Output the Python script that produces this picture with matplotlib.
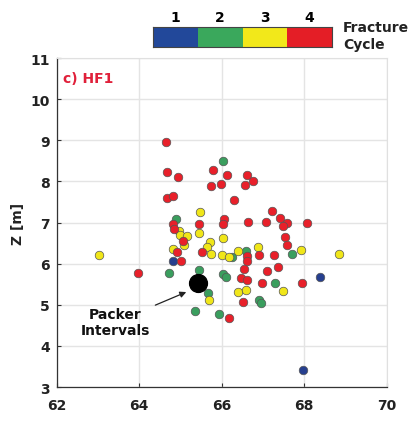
import matplotlib
matplotlib.use("Agg")
import matplotlib.pyplot as plt
import numpy as np

plt.rcParams['font.family'] = ['DejaVu Sans']

# Fracture cycle 4 (red)
red_x = [64.65, 65.79, 66.13, 66.62, 66.76, 66.57, 65.99, 65.75, 64.68, 64.94,
         64.68, 64.82, 66.30, 67.22, 67.42, 66.06, 66.04, 64.82, 65.45, 66.64,
         67.08, 67.59, 67.49, 68.07, 64.85, 67.54, 65.07, 67.59, 64.92, 65.53,
         65.02, 66.62, 66.62, 66.91, 67.27, 63.97, 66.55, 67.37, 67.10, 66.47,
         66.62, 66.98, 67.95, 66.52, 66.18]
red_z = [8.96, 8.28, 8.16, 8.16, 8.01, 7.91, 7.94, 7.89, 8.23, 8.11,
         7.60, 7.65, 7.55, 7.28, 7.11, 7.09, 6.97, 6.97, 6.97, 7.01,
         7.01, 6.99, 6.92, 6.99, 6.84, 6.65, 6.55, 6.45, 6.28, 6.28,
         6.07, 6.19, 6.07, 6.21, 6.21, 5.77, 5.87, 5.92, 5.82, 5.65,
         5.60, 5.53, 5.53, 5.07, 4.68]
# Fracture cycle 3 (yellow)
yel_x = [65.48, 64.97, 64.99, 65.16, 65.45, 66.04, 65.72, 65.65, 65.75, 65.09,
         64.82, 66.01, 66.18, 66.40, 66.89, 67.91, 68.85, 63.03, 65.70, 66.40,
         66.59, 67.49]
yel_z = [7.26, 6.80, 6.70, 6.67, 6.75, 6.63, 6.53, 6.41, 6.24, 6.45,
         6.36, 6.21, 6.16, 6.31, 6.41, 6.33, 6.24, 6.21, 5.12, 5.31,
         5.36, 5.34]
# Fracture cycle 2 (green)
grn_x = [66.04, 64.89, 66.25, 66.59, 67.71, 64.73, 65.45, 66.04, 66.11, 67.30,
         65.67, 66.91, 66.94, 65.36, 65.94]
grn_z = [8.50, 7.09, 6.16, 6.31, 6.24, 5.77, 5.85, 5.75, 5.68, 5.53,
         5.29, 5.12, 5.04, 4.85, 4.78]
# Fracture cycle 1 (blue)
blu_x = [64.82, 68.39, 67.98]
blu_z = [6.07, 5.68, 3.41]

packer_x = [65.43]
packer_z = [5.52]

cycle_labels = ['1', '2', '3', '4']
cycle_colors = ['#22489a', '#3aa85c', '#f2e81a', '#e41e26']
point_colors = ['#263f8f', '#3a9e5e', '#f0e619', '#e8202a']

xticks = [62, 64, 66, 68, 70]
yticks = [3, 4, 5, 6, 7, 8, 9, 10, 11]

fig = plt.figure(figsize=(4.08, 4.35), dpi=100)
ax = fig.add_axes([0.139, 0.108, 0.809, 0.756])

ax.set_xlim(62, 70)
ax.set_ylim(3, 11)
ax.set_xticks(xticks)
ax.set_yticks(yticks)
ax.grid(True, color='#e4e4e4', linewidth=1.0)
ax.set_axisbelow(True)
for s in ['top', 'right']:
    ax.spines[s].set_color('#e0e0e0')
for s in ['left', 'bottom']:
    ax.spines[s].set_color('#333333')
    ax.spines[s].set_linewidth(0.9)
ax.tick_params(length=3, width=0.8, direction='in', color='#333333')
ax.tick_params(axis='x', pad=8)
ax.tick_params(axis='y', pad=5)
for lab in ax.get_xticklabels() + ax.get_yticklabels():
    lab.set_fontweight('bold')
    lab.set_fontsize(10)
    lab.set_color('#222222')
ax.set_ylabel('Z [m]', fontsize=10, fontweight='bold', color='#222222', labelpad=4)

ms = 38
ec = '#555555'
for xs, zs, c in [(blu_x, blu_z, point_colors[0]), (grn_x, grn_z, point_colors[1]),
                  (yel_x, yel_z, point_colors[2]), (red_x, red_z, point_colors[3])]:
    ax.scatter(xs, zs, s=ms, c=c, edgecolors=ec, linewidths=0.5, zorder=3)

ax.scatter(packer_x, packer_z, s=165, c='black', zorder=4)

ax.annotate('Packer\nIntervals', xy=(65.14, 5.31), xytext=(63.42, 4.58),
            ha='center', va='center', fontsize=10, fontweight='bold', color='#111111',
            linespacing=1.25,
            arrowprops=dict(arrowstyle='-|>', color='#222222', lw=0.9,
                            shrinkA=2, shrinkB=0, mutation_scale=9))

ax.text(0.02, 0.96, 'c) HF1', transform=ax.transAxes, color='#e0203a',
        fontsize=10, fontweight='bold', ha='left', va='top')

# Colorbar
cax = fig.add_axes([0.375, 0.890, 0.439, 0.046])
for i, c in enumerate(cycle_colors):
    cax.bar(i, 1, width=1, color=c, align='center')
cax.set_xlim(-0.5, 3.5)
cax.set_ylim(0, 1)
cax.set_yticks([])
cax.set_xticks(range(len(cycle_labels)))
cax.set_xticklabels(cycle_labels, fontsize=10, fontweight='bold')
cax.xaxis.tick_top()
cax.tick_params(axis='x', length=0, pad=2)
for s in cax.spines.values():
    s.set_color('#444444')
    s.set_linewidth(0.8)
fig.text(0.841, 0.916, 'Fracture\nCycle', fontsize=10, fontweight='bold',
         ha='left', va='center', color='#222222', linespacing=1.2)

fig.savefig('out.png', dpi=100)
